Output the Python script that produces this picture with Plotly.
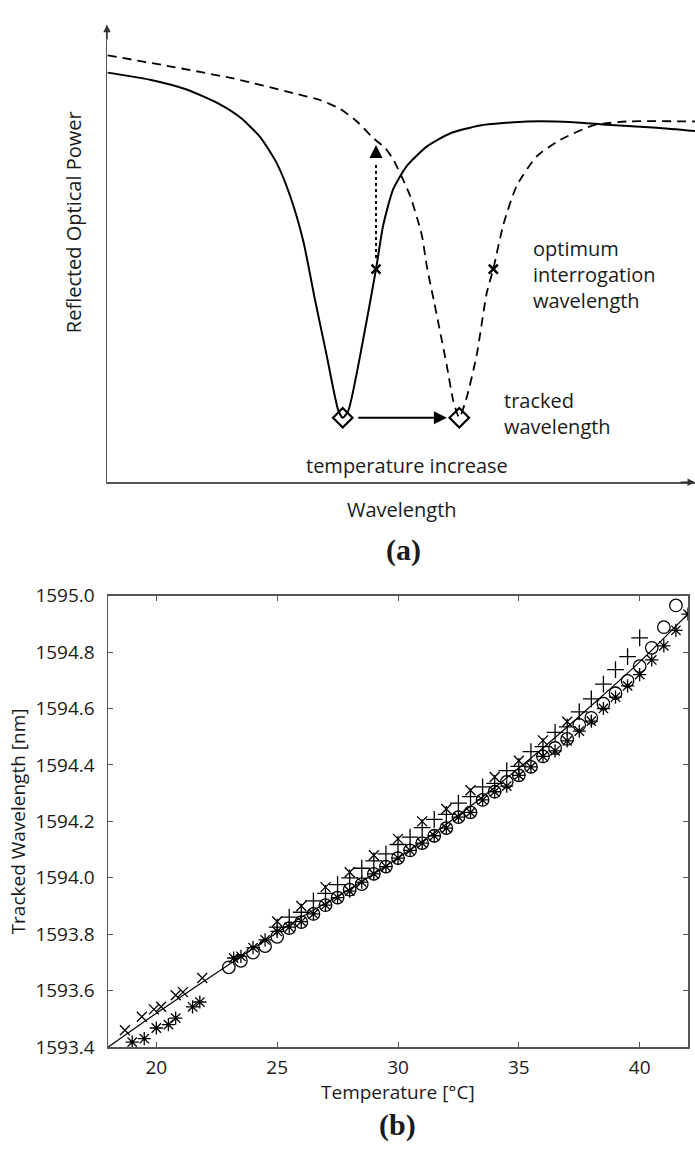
import plotly.graph_objects as go

# ---------------- Panel (a): schematic spectra (arbitrary units 0..100) ----------------
solid_wl = [0.12, 7.31, 13.55, 18.66, 22.62, 26.02, 28.84, 31.12, 33.38, 35.37, 37.35, 39.34,
            40.09, 41.04, 43.59, 45.75, 46.99, 48.69, 50.97, 54.37, 58.33, 63.44, 71.38, 79.30,
            84.98, 93.49, 100.0]
solid_pw = [89.53, 87.97, 85.83, 82.97, 79.77, 75.49, 69.81, 62.67, 52.71, 39.89, 27.78, 15.66,
            14.1, 15.66, 31.35, 46.58, 56.26, 64.10, 69.08, 73.35, 76.22, 77.99, 78.85, 78.70,
            78.14, 77.50, 76.77]
dashed_wl = [0.12, 10.15, 21.48, 31.68, 36.22, 39.63, 42.49, 45.29, 47.28, 48.69, 51.53, 53.52,
             54.42, 55.61, 57.77, 58.89, 59.91, 61.17, 62.87, 64.57, 65.70, 67.40, 69.68, 73.08,
             77.04, 82.70, 88.38, 100.0]
dashed_pw = [93.31, 91.03, 88.25, 85.04, 83.55, 81.62, 78.85, 75.21, 73.08, 70.51, 62.67, 54.12,
             47.01, 39.53, 25.64, 17.80, 14.1, 18.53, 27.78, 41.30, 46.65, 56.26, 64.81, 71.22,
             74.79, 77.99, 78.85, 78.85]
tracked_wl = [40.09, 59.91]
tracked_pw = [14.1, 14.1]
optimum_wl = [45.75, 65.70]
optimum_pw = [46.6, 46.6]
dotted_wl = [45.75, 45.75]
dotted_pw = [49.0, 69.5]

# ---------------- Panel (b): tracked wavelength vs temperature ----------------
fit_T = [18, 20, 22, 24, 26, 28, 30, 32, 34, 36, 38, 40, 42]
fit_wl = [1593.40, 1593.52, 1593.635, 1593.75, 1593.86, 1593.96, 1594.07, 1594.19, 1594.32,
          1594.46, 1594.61, 1594.765, 1594.935]

x_T = [18.7, 19.4, 19.9, 20.2, 20.8, 21.1, 21.9, 25, 26, 27, 28, 29, 30, 31, 32, 33, 34, 35, 36, 37]
x_wl = [1593.46, 1593.508, 1593.534, 1593.543, 1593.584, 1593.595, 1593.645, 1593.845, 1593.90,
        1593.967, 1594.02, 1594.08, 1594.138, 1594.20, 1594.244, 1594.31, 1594.357, 1594.415,
        1594.487, 1594.553]

plus_T = [25.0, 25.5, 26.0, 26.5, 27.0, 27.5, 28.0, 28.5, 29.0, 29.5, 30.0, 30.5, 31.0, 31.5,
          32.0, 32.5, 33.0, 33.5, 34.0, 34.5, 35.0, 35.5, 36.0, 36.5, 37.0, 37.5, 38.0, 38.5,
          39.0, 39.5, 40.0]
plus_wl = [1593.825, 1593.861, 1593.878, 1593.918, 1593.945, 1593.976, 1594.00, 1594.034,
           1594.06, 1594.085, 1594.118, 1594.144, 1594.178, 1594.207, 1594.225, 1594.265,
           1594.288, 1594.322, 1594.335, 1594.38, 1594.395, 1594.447, 1594.465, 1594.515,
           1594.535, 1594.588, 1594.634, 1594.686, 1594.738, 1594.784, 1594.85]

o_T = [23.0, 23.5, 24.0, 24.5, 25.0, 25.5, 26.0, 26.5, 27.0, 27.5, 28.0, 28.5, 29.0, 29.5,
       30.0, 30.5, 31.0, 31.5, 32.0, 32.5, 33.0, 33.5, 34.0, 34.5, 35.0, 35.5, 36.0, 36.5,
       37.0, 37.5, 38.0, 38.5, 39.0, 39.5, 40.0, 40.5, 41.0, 41.5]
o_wl = [1593.683, 1593.706, 1593.735, 1593.758, 1593.791, 1593.822, 1593.843, 1593.872,
        1593.903, 1593.93, 1593.958, 1593.978, 1594.014, 1594.04, 1594.07, 1594.097, 1594.123,
        1594.149, 1594.176, 1594.215, 1594.232, 1594.276, 1594.305, 1594.34, 1594.363, 1594.393,
        1594.43, 1594.46, 1594.492, 1594.542, 1594.567, 1594.617, 1594.654, 1594.698, 1594.75,
        1594.815, 1594.888, 1594.965]

star_T = [19.0, 19.5, 20.0, 20.5, 20.8, 21.5, 21.8, 23.2, 23.5, 24.0, 24.5, 25.0, 25.5, 26.0,
          26.5, 27.0, 27.5, 28.0, 28.5, 29.0, 29.5, 30.0, 30.5, 31.0, 31.5, 32.0, 32.5, 33.0,
          33.5, 34.0, 34.5, 35.0, 35.5, 36.0, 36.5, 37.0, 37.5, 38.0, 38.5, 39.0, 39.5, 40.0,
          40.5, 41.0, 41.5, 42.0]
star_wl = [1593.418, 1593.43, 1593.468, 1593.48, 1593.503, 1593.543, 1593.56, 1593.716,
           1593.722, 1593.753, 1593.78, 1593.81, 1593.825, 1593.845, 1593.872, 1593.903,
           1593.93, 1593.953, 1593.985, 1594.014, 1594.04, 1594.07, 1594.097, 1594.123,
           1594.149, 1594.176, 1594.215, 1594.232, 1594.276, 1594.305, 1594.325, 1594.363,
           1594.393, 1594.43, 1594.45, 1594.485, 1594.52, 1594.555, 1594.60, 1594.64, 1594.68,
           1594.72, 1594.772, 1594.822, 1594.877, 1594.934]

x_ticks = [20, 25, 30, 35, 40]
y_ticks = [1593.4, 1593.6, 1593.8, 1594.0, 1594.2, 1594.4, 1594.6, 1594.8, 1595.0]

# ---------------- Layout helpers ----------------
W, H = 695, 1155
def px(x):
    return x / W
def py(y):
    return 1 - y / H

FONT = "Open Sans"
TXT = "#1a1a1a"
AXC = "#555555"
FA = 20      # panel a text size
FB = 19      # panel b text size

fig = go.Figure()

# Panel a traces
fig.add_trace(go.Scatter(x=solid_wl, y=solid_pw, mode="lines", xaxis="x", yaxis="y",
                         line=dict(color="black", width=2, shape="spline", smoothing=0.6)))
fig.add_trace(go.Scatter(x=dashed_wl, y=dashed_pw, mode="lines", xaxis="x", yaxis="y",
                         line=dict(color="black", width=1.8, dash="9px,6px", shape="spline", smoothing=0.6)))
fig.add_trace(go.Scatter(x=dotted_wl, y=dotted_pw, mode="lines", xaxis="x", yaxis="y",
                         line=dict(color="black", width=2, dash="dot")))
fig.add_trace(go.Scatter(x=tracked_wl, y=tracked_pw, mode="markers", xaxis="x", yaxis="y",
                         marker=dict(symbol="diamond-open", size=15, color="black",
                                     line=dict(color="black", width=2.2))))
fig.add_trace(go.Scatter(x=optimum_wl, y=optimum_pw, mode="markers", xaxis="x", yaxis="y",
                         marker=dict(symbol="x-thin-open", size=9, color="black",
                                     line=dict(color="black", width=2.5))))

# Panel b traces
fig.add_trace(go.Scatter(x=fit_T, y=fit_wl, mode="lines", xaxis="x2", yaxis="y2",
                         line=dict(color="black", width=1.2, shape="spline")))
mk = dict(color="black", width=1.3)
fig.add_trace(go.Scatter(x=o_T, y=o_wl, mode="markers", xaxis="x2", yaxis="y2",
                         marker=dict(symbol="circle-open", size=12.5, color="black", line=mk)))
fig.add_trace(go.Scatter(x=star_T, y=star_wl, mode="markers", xaxis="x2", yaxis="y2",
                         marker=dict(symbol="asterisk-open", size=11, color="black", line=mk)))
fig.add_trace(go.Scatter(x=plus_T, y=plus_wl, mode="markers", xaxis="x2", yaxis="y2",
                         marker=dict(symbol="cross-thin-open", size=12, color="black", line=mk)))
fig.add_trace(go.Scatter(x=x_T, y=x_wl, mode="markers", xaxis="x2", yaxis="y2",
                         marker=dict(symbol="x-thin-open", size=10, color="black", line=mk)))

annotations = []
# axis arrowheads for panel a
annotations.append(dict(x=0, y=100, xref="x", yref="y", text="", showarrow=True, ax=0, ay=16,
                        arrowhead=2, arrowsize=1, arrowwidth=1.5, arrowcolor="#333333"))
annotations.append(dict(x=100, y=0, xref="x", yref="y", text="", showarrow=True, ax=-16, ay=0,
                        arrowhead=2, arrowsize=1, arrowwidth=1.5, arrowcolor="#333333"))
# horizontal arrow (temperature shift)
annotations.append(dict(x=57.8, y=14.1, ax=42.5, ay=14.1, xref="x", yref="y", axref="x", ayref="y",
                        text="", showarrow=True, arrowhead=2, arrowsize=1.3, arrowwidth=2,
                        arrowcolor="black"))
# dotted vertical arrow head
annotations.append(dict(x=45.75, y=73.7, xref="x", yref="y", text="", showarrow=True, ax=0, ay=14,
                        arrowhead=2, arrowsize=1.3, arrowwidth=2, arrowcolor="black"))

def label(text, x, y, xanchor="center", size=FA, angle=0, family=FONT, align="left"):
    annotations.append(dict(text=text, x=px(x), y=py(y), xref="paper", yref="paper",
                            xanchor=xanchor, yanchor="middle", showarrow=False, textangle=angle,
                            align=align, font=dict(family=family, size=size, color=TXT)))

label("optimum<br>interrogation<br>wavelength", 531, 268, xanchor="left")
label("tracked<br>wavelength", 502, 410, xanchor="left")
label("temperature increase", 407, 463)
label("Wavelength", 402, 508)
label("Reflected Optical Power", 73, 214, angle=-90)
label("<b>(a)</b>", 403, 549, size=30, family="Liberation Serif")

label("Tracked Wavelength [nm]", 18, 827, angle=-90, size=FB)
label("Temperature [°C]", 398, 1104, size=FB)
label("<b>(b)</b>", 398, 1138, size=30, family="Liberation Serif")

fig.update_layout(
    width=W, height=H,
    margin=dict(l=0, r=0, t=0, b=0),
    paper_bgcolor="white", plot_bgcolor="white",
    showlegend=False,
    font=dict(family=FONT, size=FB, color=TXT),
    xaxis=dict(domain=[px(107), 1.0], range=[0, 100], showline=True, linecolor=AXC, linewidth=1.5,
               showticklabels=False, ticks="", showgrid=False, zeroline=False, anchor="y"),
    yaxis=dict(domain=[py(480), py(12)], range=[0, 100], showline=True, linecolor=AXC, linewidth=1.5,
               showticklabels=False, ticks="", showgrid=False, zeroline=False, anchor="x"),
    xaxis2=dict(domain=[px(108), px(688)], range=[18, 42], showline=True, mirror="ticks",
                linecolor=AXC, linewidth=1.5, ticks="inside", ticklen=5, tickcolor=AXC,
                tickvals=x_ticks, showgrid=False, zeroline=False, anchor="y2",
                tickfont=dict(family=FONT, size=FB, color=TXT), ticklabelstandoff=3),
    yaxis2=dict(domain=[py(1058), py(596)], range=[1593.4, 1595.0], showline=True, mirror="ticks",
                linecolor=AXC, linewidth=1.5, ticks="inside", ticklen=5, tickcolor=AXC,
                tickvals=y_ticks, tickformat=".1f", showgrid=False, zeroline=False, anchor="x2",
                tickfont=dict(family=FONT, size=FB, color=TXT), ticklabelstandoff=8),
    annotations=annotations,
)

fig.write_html("out.html", config={"displayModeBar": False, "staticPlot": True},
               post_script="document.body.style.margin='0';document.body.style.overflow='hidden';")
